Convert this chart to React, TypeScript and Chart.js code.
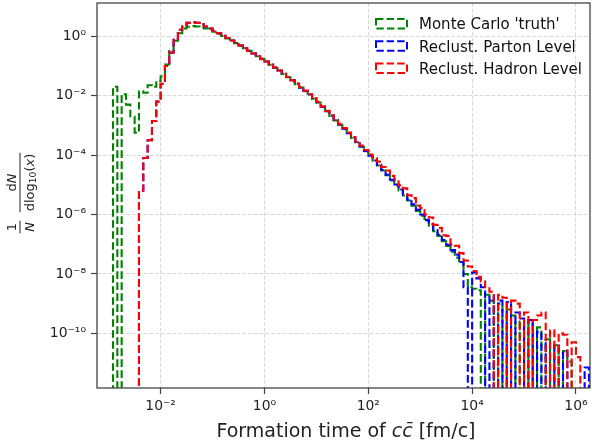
import React, { useEffect, useRef } from "react";
import { Chart, registerables } from "chart.js";

Chart.register(...registerables);

// Histogram binning (log-spaced bins): first edge exponent and bins per decade
const BIN_START_EXP = -3;
const BINS_PER_DECADE = 12;

// Axis ranges (log10 exponents)
const X_MIN_EXP = -3.225;
const X_MAX_EXP = 6.27;
const Y_MIN_EXP = -11.84;
const Y_MAX_EXP = 1.12;

const xTickExps = [-2, 0, 2, 4, 6];
const yTickExps = [0, -2, -4, -6, -8, -10];

const seriesLabels = ["Monte Carlo 'truth'", "Reclust. Parton Level", "Reclust. Hadron Level"];
const seriesColors = ["#008000", "#0000ff", "#ff0000"];

// log10 of 1/N dN/dlog10(x) per bin (null = empty bin)
const truthLog = [
  null, -1.7, null, -1.95, -2.3, -2.7, -3.25, -1.85, -1.9, -1.65,
  -1.7, -1.5, -1.35, -0.95, -0.5, -0.15, 0.1, 0.26, 0.32, 0.34,
  0.33, 0.3, 0.26, 0.21, 0.15, 0.08, 0.01, -0.07, -0.15, -0.23,
  -0.31, -0.4, -0.49, -0.58, -0.67, -0.77, -0.86, -0.96, -1.06, -1.16,
  -1.27, -1.38, -1.49, -1.61, -1.73, -1.85, -1.97, -2.1, -2.23, -2.38,
  -2.53, -2.68, -2.83, -2.98, -3.12, -3.27, -3.42, -3.57, -3.72, -3.87,
  -4.03, -4.19, -4.35, -4.52, -4.68, -4.85, -5.02, -5.19, -5.36, -5.53,
  -5.7, -5.88, -6.04, -6.22, -6.38, -6.56, -6.72, -6.9, -7.06, -7.25,
  -7.45, -7.62, -8.0, -8.45, -8.5, -8.55, null, -8.7, -8.9, null,
  -9.0, null, -9.2, -9.4, null, -9.6, null, -9.55, null, -9.8,
  null, -10.2, null, -10.4, null, -10.6, -10.95, null, null, null,
  null,
];

const partonLog = [
  null, null, null, null, null, null, null, -5.2, -4.1, -3.5,
  -2.85, -2.2, -1.6, -1.0, -0.55, -0.12, 0.22, 0.38, 0.45, 0.47,
  0.45, 0.4, 0.33, 0.26, 0.18, 0.1, 0.02, -0.06, -0.14, -0.22,
  -0.31, -0.4, -0.49, -0.58, -0.67, -0.76, -0.85, -0.95, -1.05, -1.15,
  -1.26, -1.37, -1.48, -1.6, -1.72, -1.84, -1.96, -2.09, -2.22, -2.37,
  -2.52, -2.67, -2.82, -2.97, -3.11, -3.26, -3.41, -3.56, -3.71, -3.86,
  -4.02, -4.18, -4.33, -4.5, -4.66, -4.83, -4.99, -5.16, -5.32, -5.5,
  -5.66, -5.84, -6.0, -6.18, -6.33, -6.52, -6.68, -6.86, -7.02, -7.2,
  -7.35, -7.6, -8.45, null, -7.95, -8.15, -8.45, null, -8.75, null,
  -8.9, null, -8.95, null, -9.3, -9.5, null, -9.55, null, -9.95,
  null, -10.3, null, -10.4, null, -10.6, null, null, null, null,
  -11.15,
];

const hadronLog = [
  null, null, null, null, null, null, null, -5.2, -4.1, -3.5,
  -2.85, -2.2, -1.6, -1.0, -0.55, -0.12, 0.22, 0.38, 0.45, 0.47,
  0.45, 0.4, 0.33, 0.26, 0.18, 0.1, 0.02, -0.06, -0.14, -0.22,
  -0.31, -0.4, -0.49, -0.58, -0.67, -0.76, -0.85, -0.95, -1.05, -1.15,
  -1.26, -1.37, -1.48, -1.59, -1.71, -1.83, -1.95, -2.08, -2.21, -2.36,
  -2.51, -2.66, -2.81, -2.95, -3.09, -3.24, -3.39, -3.54, -3.68, -3.83,
  -3.98, -4.1, -4.22, -4.4, -4.52, -4.7, -4.82, -5.02, -5.12, -5.35,
  -5.45, -5.7, -5.78, -6.0, -6.1, -6.35, -6.45, -6.7, -6.72, -7.0,
  -7.05, -7.3, -7.55, -7.75, -7.9, -8.1, -8.25, -8.45, -8.6, null,
  -8.7, -8.8, null, -8.9, -9.0, null, -9.3, null, -9.55, -9.4,
  -9.3, null, -9.9, null, -10.0, -10.05, null, -10.3, -10.8, null,
  null,
];

const seriesLogs = [truthLog, partonLog, hadronLog];

const EMPTY = 1e-40;
const FONT = "'DejaVu Sans', 'Liberation Sans', sans-serif";
const TEXT = "#222222";

function binEdge(i: number): number {
  return Math.pow(10, BIN_START_EXP + i / BINS_PER_DECADE);
}

function histPoints(logVals: (number | null)[]) {
  const n = logVals.length;
  const val = (v: number | null) => (v === null ? EMPTY : Math.pow(10, v));
  const pts: { x: number; y: number }[] = [{ x: binEdge(0), y: EMPTY }];
  for (let i = 0; i < n; i++) pts.push({ x: binEdge(i), y: val(logVals[i]) });
  pts.push({ x: binEdge(n), y: val(logVals[n - 1]) });
  pts.push({ x: binEdge(n), y: EMPTY });
  return pts;
}

const SUP: Record<string, string> = {
  "0": "\u2070", "1": "\u00B9", "2": "\u00B2", "3": "\u00B3", "4": "\u2074",
  "5": "\u2075", "6": "\u2076", "7": "\u2077", "8": "\u2078", "9": "\u2079", "-": "\u207B",
};
function powLabel(value: number): string {
  const e = Math.round(Math.log10(value));
  return "10" + String(e).split("").map((c) => SUP[c] || c).join("");
}

const framePlugin = {
  id: "frame",
  afterDatasetsDraw(chart: any) {
    const { ctx, chartArea: a } = chart;
    ctx.save();
    ctx.setLineDash([]);
    ctx.strokeStyle = "#444444";
    ctx.lineWidth = 1.3;
    ctx.strokeRect(a.left, a.top, a.right - a.left, a.bottom - a.top);
    ctx.restore();
  },
};

const legendPlugin = {
  id: "insideLegend",
  afterDraw(chart: any) {
    const { ctx } = chart;
    ctx.save();
    chart.data.datasets.forEach((ds: any, i: number) => {
      const cy = 23.7 + i * 22.3;
      ctx.setLineDash([7.4, 3.2]);
      ctx.lineWidth = 2;
      ctx.strokeStyle = ds.borderColor;
      ctx.strokeRect(376, cy - 4.7, 31, 9.4);
      ctx.setLineDash([]);
      ctx.fillStyle = "#111111";
      ctx.font = `15px ${FONT}`;
      ctx.textAlign = "left";
      ctx.textBaseline = "alphabetic";
      ctx.fillText(ds.label, 419, cy + 5.6);
    });
    ctx.restore();
  },
};

const titlesPlugin = {
  id: "axisTitles",
  afterDraw(chart: any) {
    const { ctx } = chart;
    ctx.save();
    ctx.fillStyle = TEXT;
    ctx.strokeStyle = TEXT;
    ctx.textBaseline = "alphabetic";
    ctx.textAlign = "left";
    // x title with italic c c-bar
    const xs = 19;
    const pieces: [string, boolean][] = [
      ["Formation time of ", false],
      ["c", true],
      ["c\u0304", true],
      [" [fm/c]", false],
    ];
    let total = 0;
    const widths = pieces.map(([t, it]) => {
      ctx.font = `${it ? "italic " : ""}${xs}px ${FONT}`;
      const w = ctx.measureText(t).width;
      total += w;
      return w;
    });
    let x = 346 - total / 2;
    pieces.forEach(([t, it], k) => {
      ctx.font = `${it ? "italic " : ""}${xs}px ${FONT}`;
      ctx.fillText(t, x, 437);
      x += widths[k];
    });

    // y title: (1/N) (dN / dlog10(x)), rotated
    ctx.translate(20, 193.5);
    ctx.rotate(-Math.PI / 2);
    const fs = 13;
    const norm = `${fs}px ${FONT}`;
    const ital = `italic ${fs}px ${FONT}`;
    const sub = `${fs * 0.7}px ${FONT}`;
    const drawRun = (runs: [string, string, number][], cx: number, base: number) => {
      let w = 0;
      runs.forEach(([t, f]) => { ctx.font = f; w += ctx.measureText(t).width; });
      let px = cx - w / 2;
      runs.forEach(([t, f, dy]) => {
        ctx.font = f;
        ctx.fillText(t, px, base + dy);
        px += ctx.measureText(t).width;
      });
      return w;
    };
    ctx.lineWidth = 1;
    // fraction 1/N
    const aC = -33.5;
    drawRun([["1", norm, 0]], aC, -4);
    const wN = drawRun([["N", ital, 0]], aC, 13.5);
    ctx.beginPath();
    ctx.moveTo(aC - wN / 2 - 1.5, 0);
    ctx.lineTo(aC + wN / 2 + 1.5, 0);
    ctx.stroke();
    // fraction dN / dlog10(x)
    const bC = 11;
    drawRun([["d", norm, 0], ["N", ital, 0]], bC, -4);
    const wD = drawRun(
      [["dlog", norm, 0], ["10", sub, 2.5], ["(", norm, 0], ["x", ital, 0], [")", norm, 0]],
      bC,
      13.5
    );
    ctx.beginPath();
    ctx.moveTo(bC - wD / 2 - 1, 0);
    ctx.lineTo(bC + wD / 2 + 1, 0);
    ctx.stroke();
    ctx.restore();
  },
};

export default function App() {
  const canvasRef = useRef<HTMLCanvasElement>(null);

  useEffect(() => {
    document.body.style.margin = "0";
    const canvas = canvasRef.current;
    if (!canvas) return;

    const datasets = seriesLogs.map((logs, i) => ({
      label: seriesLabels[i],
      data: histPoints(logs),
      borderColor: seriesColors[i],
      backgroundColor: "transparent",
      borderWidth: 2.1,
      borderDash: [7.7, 3.3],
      pointRadius: 0,
      pointHoverRadius: 0,
      fill: false,
      stepped: "before" as const,
      tension: 0,
      order: 2 - i,
    }));

    const gridOpts = {
      color: "#d9d9d9",
      lineWidth: 1,
      drawTicks: true,
      tickLength: 6,
      tickColor: "#444444",
      tickWidth: 1.2,
    };

    const chart = new Chart(canvas, {
      type: "line",
      data: { datasets },
      options: {
        animation: false,
        responsive: false,
        maintainAspectRatio: false,
        devicePixelRatio: 1,
        events: [],
        layout: { autoPadding: false, padding: { left: 0, top: 3, right: 2, bottom: 0 } },
        plugins: {
          legend: { display: false },
          tooltip: { enabled: false },
        },
        scales: {
          x: {
            type: "logarithmic",
            bounds: "data",
            min: Math.pow(10, X_MIN_EXP),
            max: Math.pow(10, X_MAX_EXP),
            afterBuildTicks: (scale: any) => {
              scale.ticks = xTickExps.map((e) => ({ value: Math.pow(10, e) }));
            },
            afterFit: (scale: any) => {
              scale.height = 58;
              scale.paddingLeft = 0;
              scale.paddingRight = 0;
              scale.paddingTop = 0;
              scale.paddingBottom = 0;
            },
            ticks: {
              autoSkip: false,
              maxRotation: 0,
              minRotation: 0,
              padding: 4,
              color: TEXT,
              font: { family: FONT, size: 13.9 },
              callback: (v: any) => powLabel(Number(v)),
            },
            grid: gridOpts,
            border: { display: false, dash: [4, 1.8] },
            title: { display: false },
          },
          y: {
            type: "logarithmic",
            bounds: "data",
            min: Math.pow(10, Y_MIN_EXP),
            max: Math.pow(10, Y_MAX_EXP),
            afterBuildTicks: (scale: any) => {
              scale.ticks = yTickExps.map((e) => ({ value: Math.pow(10, e) }));
            },
            afterFit: (scale: any) => {
              scale.width = 97;
              scale.paddingLeft = 0;
              scale.paddingRight = 0;
              scale.paddingTop = 0;
              scale.paddingBottom = 0;
            },
            ticks: {
              autoSkip: false,
              padding: 5,
              color: TEXT,
              font: { family: FONT, size: 13.9 },
              callback: (v: any) => powLabel(Number(v)),
            },
            grid: gridOpts,
            border: { display: false, dash: [4, 1.8] },
            title: { display: false },
          },
        },
      } as any,
      plugins: [framePlugin, titlesPlugin, legendPlugin],
    });

    return () => chart.destroy();
  }, []);

  return (
    <canvas
      ref={canvasRef}
      width={592}
      height={446}
      style={{ display: "block", width: "592px", height: "446px" }}
    />
  );
}
